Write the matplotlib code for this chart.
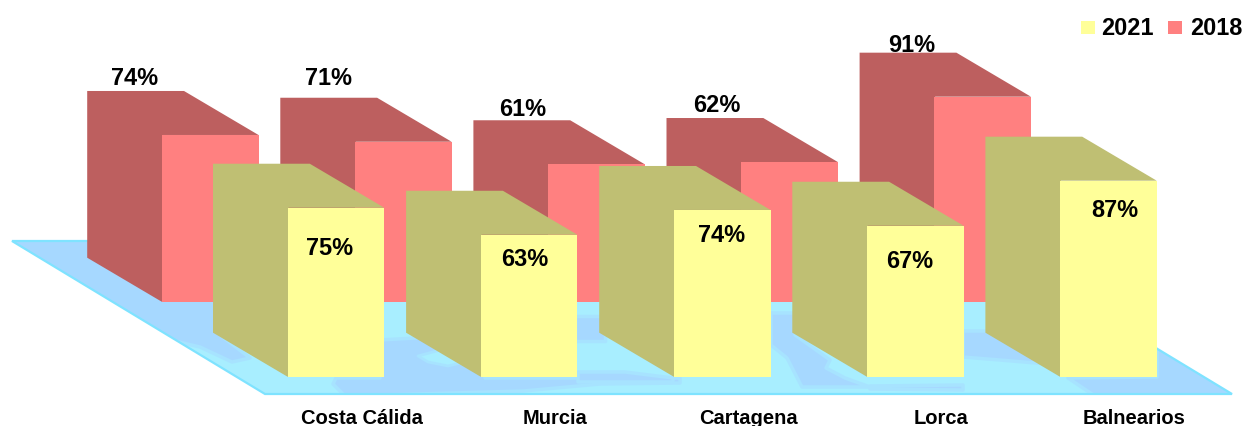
import matplotlib
matplotlib.use("Agg")
import matplotlib.pyplot as plt
from matplotlib.patches import Polygon, Rectangle

categories = ["Costa Cálida", "Murcia", "Cartagena", "Lorca", "Balnearios"]
values_2018 = [74, 71, 61, 62, 91]
values_2021 = [75, 63, 74, 67, 87]

plt.rcParams['font.family'] = ['Liberation Sans', 'DejaVu Sans']
W, H = 1244, 426
fig = plt.figure(figsize=(W / 100, H / 100), dpi=100)
ax = fig.add_axes([0, 0, 1, 1])
PX = 2.253           # pixels per percentage point
BASE = 376.7         # pixel row of the zero line of the front series
ax.set_xlim(0, W)
ax.set_ylim(-(H - BASE) / PX, BASE / PX)
ax.axis("off")


def yp(row):
    return (BASE - row) / PX


STEP, BW = 193.1, 96.8
DX, DY = -74.5, 44.0 / PX
FRONT_X = 287.5
BACK_X = 161.7
BACK_BOTTOM = 75.0 / PX

# floor with its blotchy texture
floor = Polygon([(12, yp(241)), (265, yp(394)), (1232, yp(394)), (979, yp(241))],
                closed=True, fc="#A8EEFF", ec="none", zorder=1)
ax.add_patch(floor)
blotches = [
    [(0, 235), (220, 235), (220, 335), (250, 358), (232, 362), (200, 347), (0, 300)],
    [(380, 340), (470, 335), (485, 378), (680, 378), (680, 383), (600, 384), (523, 391), (345, 396), (333, 384), (336, 378), (380, 378)],
    [(575, 316), (605, 316), (605, 341), (575, 341)],
    [(578, 372), (625, 372), (673, 378), (673, 382), (578, 382)],
    [(771, 313), (795, 313), (795, 335), (830, 360), (826, 368), (845, 378), (870, 387), (802, 387), (787, 358), (771, 345)],
    [(963, 331), (990, 331), (1060, 365), (1000, 360), (963, 357)],
    [(1068, 378), (1157, 377), (1157, 345), (1240, 345), (1240, 396), (1095, 396), (1080, 386)],
    [(870, 386), (963, 385), (963, 390), (870, 389)],
]
for pts in blotches:
    p = Polygon([(x, yp(y)) for x, y in pts], closed=True, fc="#A6D8FF", ec="#A7E3FF",
                lw=2.5, joinstyle="round", zorder=1.1)
    ax.add_patch(p)
    p.set_clip_path(floor)
cyan_spots = [
    [(418, 356), (440, 350), (465, 362), (448, 366), (428, 362)],
]
for pts in cyan_spots:
    ax.add_patch(Polygon([(x, yp(y)) for x, y in pts], closed=True, fc="#A8EEFF", ec="#A7E3FF",
                         lw=2, joinstyle="round", zorder=1.2))
ax.add_patch(Polygon(floor.get_xy(), closed=True, fc="none", ec="#7FE3FF", lw=1.6, zorder=1.3))


def draw_row(x0, bottom, values, front, side, z):
    lefts = [x0 + STEP * i for i in range(len(values))]
    for x, v in zip(lefts, values):
        top = bottom + v
        seam = x + 1.0  # the side runs just under the front face
        ax.add_patch(Polygon([(seam, bottom), (x, bottom), (x + DX, bottom + DY), (x + DX, top + DY),
                              (x + BW + DX, top + DY), (x + BW, top), (seam, top)],
                             closed=True, fc=side, ec="none", zorder=z))
    ax.bar(lefts, values, BW, bottom=bottom, align="edge", color=front, zorder=z + 0.1)


draw_row(BACK_X, BACK_BOTTOM, values_2018, "#FF8080", "#BD5F5F", 2)
draw_row(FRONT_X, 0, values_2021, "#FFFF99", "#BFBF73", 3)

FS = 16.9
back_label_x = [135, 328, 523, 717, 912]
back_label_y = [85, 85, 116, 112, 52]
front_label_x = [330, 525, 722, 910, 1115]
front_label_y = [255, 266, 242, 268, 217]
for x, y, v in zip(back_label_x, back_label_y, values_2018):
    ax.text(x, yp(y), f"{v}%", ha="center", va="baseline", fontsize=FS, fontweight="bold", color="black", zorder=5)
for x, y, v in zip(front_label_x, front_label_y, values_2021):
    ax.text(x, yp(y), f"{v}%", ha="center", va="baseline", fontsize=FS, fontweight="bold", color="black", zorder=5)

for i, c in enumerate(categories):
    ax.text(362 + STEP * i, yp(424), c, ha="center", va="baseline",
            fontsize=14.5, fontweight="bold", color="black", zorder=5)

# legend
for x0, col, lab, tx in [(1081, "#FFFF99", "2021", 1101), (1168, "#FF8080", "2018", 1190)]:
    ax.add_patch(Rectangle((x0, yp(33.5)), 13.5, 13 / PX, fc=col, ec="none", zorder=5))
    ax.text(tx, yp(35), lab, ha="left", va="baseline", fontsize=FS, fontweight="bold", color="black", zorder=5)

fig.savefig("out.png", dpi=100, facecolor="white")
